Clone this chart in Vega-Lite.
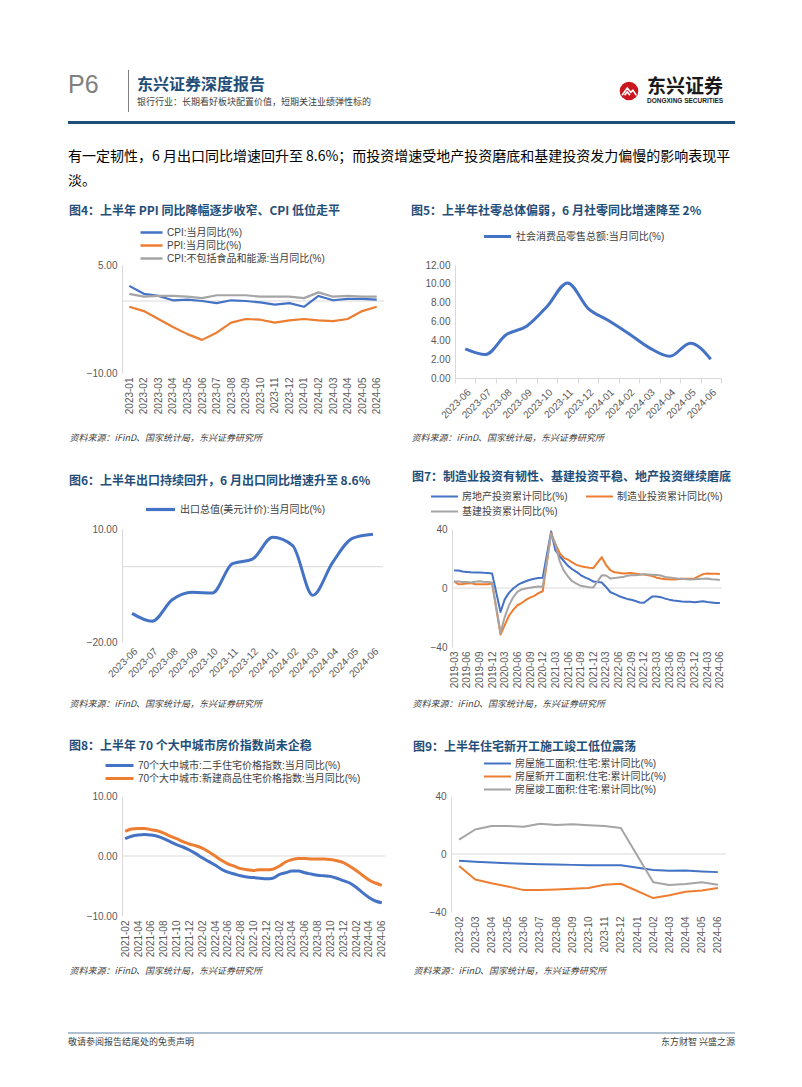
{
"$schema": "https://vega.github.io/schema/vega-lite/v6.json",
"background": "white",
"padding": {"left": 68, "top": 70, "right": 60, "bottom": 10},
"config": {
  "font": "Liberation Sans, Noto Sans CJK SC",
  "view": {"stroke": null},
  "title": {"font": "Noto Sans CJK SC", "fontSize": 12, "fontWeight": "bold", "color": "#1f4e79", "anchor": "start", "frame": "group", "subtitleFont": "Noto Sans CJK SC"},
  "axis": {"labelFont": "Liberation Sans", "labelFontSize": 10, "labelColor": "#595959", "grid": false, "ticks": false, "domainColor": "#d9d9d9", "titleFont": "Noto Sans CJK SC", "titleFontSize": 9, "titleFontWeight": "normal", "titleColor": "#404040", "titleFontStyle": "italic"},
  "axisX": {"domain": false, "labelPadding": 4, "labelOverlap": false, "titleAlign": "left", "titleBaseline": "middle"},
  "axisY": {"domain": true, "labelPadding": 5},
  "legend": {"orient": "none", "direction": "vertical", "symbolType": "stroke", "symbolStrokeWidth": 2.5, "labelFont": "Liberation Sans, Noto Sans CJK SC", "labelFontSize": 10, "labelColor": "#404040", "labelLimit": 400, "padding": 0, "rowPadding": 2, "clipHeight": 11, "labelOffset": 3},
  "line": {"strokeJoin": "round"}
},
"datasets": {
  "d4": [
    {"m":"2023-01","s":"CPI","v":2.1},{"m":"2023-02","s":"CPI","v":1.0},{"m":"2023-03","s":"CPI","v":0.7},{"m":"2023-04","s":"CPI","v":0.1},{"m":"2023-05","s":"CPI","v":0.2},{"m":"2023-06","s":"CPI","v":0.0},{"m":"2023-07","s":"CPI","v":-0.3},{"m":"2023-08","s":"CPI","v":0.1},{"m":"2023-09","s":"CPI","v":0.0},{"m":"2023-10","s":"CPI","v":-0.2},{"m":"2023-11","s":"CPI","v":-0.5},{"m":"2023-12","s":"CPI","v":-0.3},{"m":"2024-01","s":"CPI","v":-0.8},{"m":"2024-02","s":"CPI","v":0.7},{"m":"2024-03","s":"CPI","v":0.1},{"m":"2024-04","s":"CPI","v":0.3},{"m":"2024-05","s":"CPI","v":0.3},{"m":"2024-06","s":"CPI","v":0.2},
    {"m":"2023-01","s":"PPI","v":-0.8},{"m":"2023-02","s":"PPI","v":-1.4},{"m":"2023-03","s":"PPI","v":-2.5},{"m":"2023-04","s":"PPI","v":-3.6},{"m":"2023-05","s":"PPI","v":-4.6},{"m":"2023-06","s":"PPI","v":-5.4},{"m":"2023-07","s":"PPI","v":-4.4},{"m":"2023-08","s":"PPI","v":-3.0},{"m":"2023-09","s":"PPI","v":-2.5},{"m":"2023-10","s":"PPI","v":-2.6},{"m":"2023-11","s":"PPI","v":-3.0},{"m":"2023-12","s":"PPI","v":-2.7},{"m":"2024-01","s":"PPI","v":-2.5},{"m":"2024-02","s":"PPI","v":-2.7},{"m":"2024-03","s":"PPI","v":-2.8},{"m":"2024-04","s":"PPI","v":-2.5},{"m":"2024-05","s":"PPI","v":-1.4},{"m":"2024-06","s":"PPI","v":-0.8},
    {"m":"2023-01","s":"核心CPI","v":1.0},{"m":"2023-02","s":"核心CPI","v":0.6},{"m":"2023-03","s":"核心CPI","v":0.7},{"m":"2023-04","s":"核心CPI","v":0.7},{"m":"2023-05","s":"核心CPI","v":0.6},{"m":"2023-06","s":"核心CPI","v":0.4},{"m":"2023-07","s":"核心CPI","v":0.8},{"m":"2023-08","s":"核心CPI","v":0.8},{"m":"2023-09","s":"核心CPI","v":0.8},{"m":"2023-10","s":"核心CPI","v":0.6},{"m":"2023-11","s":"核心CPI","v":0.6},{"m":"2023-12","s":"核心CPI","v":0.6},{"m":"2024-01","s":"核心CPI","v":0.4},{"m":"2024-02","s":"核心CPI","v":1.2},{"m":"2024-03","s":"核心CPI","v":0.6},{"m":"2024-04","s":"核心CPI","v":0.7},{"m":"2024-05","s":"核心CPI","v":0.6},{"m":"2024-06","s":"核心CPI","v":0.6}
  ],
  "d5": [
    {"m":"2023-06","s":"社会消费品零售总额:当月同比(%)","v":3.1},{"m":"2023-07","s":"社会消费品零售总额:当月同比(%)","v":2.5},{"m":"2023-08","s":"社会消费品零售总额:当月同比(%)","v":4.6},{"m":"2023-09","s":"社会消费品零售总额:当月同比(%)","v":5.5},{"m":"2023-10","s":"社会消费品零售总额:当月同比(%)","v":7.6},{"m":"2023-11","s":"社会消费品零售总额:当月同比(%)","v":10.1},{"m":"2023-12","s":"社会消费品零售总额:当月同比(%)","v":7.4},{"m":"2024-01","s":"社会消费品零售总额:当月同比(%)","v":6.1},{"m":"2024-02","s":"社会消费品零售总额:当月同比(%)","v":4.7},{"m":"2024-03","s":"社会消费品零售总额:当月同比(%)","v":3.2},{"m":"2024-04","s":"社会消费品零售总额:当月同比(%)","v":2.3},{"m":"2024-05","s":"社会消费品零售总额:当月同比(%)","v":3.7},{"m":"2024-06","s":"社会消费品零售总额:当月同比(%)","v":2.0}
  ],
  "d6": [
    {"m":"2023-06","s":"出口总值(美元计价):当月同比(%)","v":-12.4},{"m":"2023-07","s":"出口总值(美元计价):当月同比(%)","v":-14.5},{"m":"2023-08","s":"出口总值(美元计价):当月同比(%)","v":-8.8},{"m":"2023-09","s":"出口总值(美元计价):当月同比(%)","v":-6.8},{"m":"2023-10","s":"出口总值(美元计价):当月同比(%)","v":-7.0},{"m":"2023-11","s":"出口总值(美元计价):当月同比(%)","v":0.8},{"m":"2023-12","s":"出口总值(美元计价):当月同比(%)","v":2.0},{"m":"2024-01","s":"出口总值(美元计价):当月同比(%)","v":7.8},{"m":"2024-02","s":"出口总值(美元计价):当月同比(%)","v":5.6},{"m":"2024-03","s":"出口总值(美元计价):当月同比(%)","v":-7.6},{"m":"2024-04","s":"出口总值(美元计价):当月同比(%)","v":1.2},{"m":"2024-05","s":"出口总值(美元计价):当月同比(%)","v":7.6},{"m":"2024-06","s":"出口总值(美元计价):当月同比(%)","v":8.6}
  ],
  "d7": [
    {"m":"2019-03","s":"地产","v":11.8},{"m":"2019-04","s":"地产","v":11.9},{"m":"2019-05","s":"地产","v":11.2},{"m":"2019-06","s":"地产","v":10.9},{"m":"2019-07","s":"地产","v":10.6},{"m":"2019-08","s":"地产","v":10.5},{"m":"2019-09","s":"地产","v":10.5},{"m":"2019-10","s":"地产","v":10.3},{"m":"2019-11","s":"地产","v":10.2},{"m":"2019-12","s":"地产","v":9.9},
    {"m":"2020-02","s":"地产","v":-16.3},{"m":"2020-03","s":"地产","v":-7.7},{"m":"2020-04","s":"地产","v":-3.3},{"m":"2020-05","s":"地产","v":-0.3},{"m":"2020-06","s":"地产","v":1.9},{"m":"2020-07","s":"地产","v":3.4},{"m":"2020-08","s":"地产","v":4.6},{"m":"2020-09","s":"地产","v":5.6},{"m":"2020-10","s":"地产","v":6.3},{"m":"2020-11","s":"地产","v":6.8},{"m":"2020-12","s":"地产","v":7.0},
    {"m":"2021-02","s":"地产","v":38.3},{"m":"2021-03","s":"地产","v":25.6},{"m":"2021-04","s":"地产","v":21.6},{"m":"2021-05","s":"地产","v":18.3},{"m":"2021-06","s":"地产","v":15.0},{"m":"2021-07","s":"地产","v":12.7},{"m":"2021-08","s":"地产","v":10.9},{"m":"2021-09","s":"地产","v":8.8},{"m":"2021-10","s":"地产","v":7.2},{"m":"2021-11","s":"地产","v":6.0},{"m":"2021-12","s":"地产","v":4.4},
    {"m":"2022-02","s":"地产","v":3.7},{"m":"2022-03","s":"地产","v":0.7},{"m":"2022-04","s":"地产","v":-2.7},{"m":"2022-05","s":"地产","v":-4.0},{"m":"2022-06","s":"地产","v":-5.4},{"m":"2022-07","s":"地产","v":-6.4},{"m":"2022-08","s":"地产","v":-7.4},{"m":"2022-09","s":"地产","v":-8.0},{"m":"2022-10","s":"地产","v":-8.8},{"m":"2022-11","s":"地产","v":-9.8},{"m":"2022-12","s":"地产","v":-10.0},
    {"m":"2023-02","s":"地产","v":-5.7},{"m":"2023-03","s":"地产","v":-5.8},{"m":"2023-04","s":"地产","v":-6.2},{"m":"2023-05","s":"地产","v":-7.2},{"m":"2023-06","s":"地产","v":-7.9},{"m":"2023-07","s":"地产","v":-8.5},{"m":"2023-08","s":"地产","v":-8.8},{"m":"2023-09","s":"地产","v":-9.1},{"m":"2023-10","s":"地产","v":-9.3},{"m":"2023-11","s":"地产","v":-9.4},{"m":"2023-12","s":"地产","v":-9.6},
    {"m":"2024-02","s":"地产","v":-9.0},{"m":"2024-03","s":"地产","v":-9.5},{"m":"2024-04","s":"地产","v":-9.8},{"m":"2024-05","s":"地产","v":-10.1},{"m":"2024-06","s":"地产","v":-10.1},
    {"m":"2019-03","s":"制造业","v":4.6},{"m":"2019-04","s":"制造业","v":2.5},{"m":"2019-05","s":"制造业","v":2.7},{"m":"2019-06","s":"制造业","v":3.0},{"m":"2019-07","s":"制造业","v":3.3},{"m":"2019-08","s":"制造业","v":2.6},{"m":"2019-09","s":"制造业","v":2.5},{"m":"2019-10","s":"制造业","v":2.6},{"m":"2019-11","s":"制造业","v":2.5},{"m":"2019-12","s":"制造业","v":3.1},
    {"m":"2020-02","s":"制造业","v":-31.5},{"m":"2020-03","s":"制造业","v":-25.2},{"m":"2020-04","s":"制造业","v":-18.8},{"m":"2020-05","s":"制造业","v":-14.8},{"m":"2020-06","s":"制造业","v":-11.7},{"m":"2020-07","s":"制造业","v":-10.2},{"m":"2020-08","s":"制造业","v":-8.1},{"m":"2020-09","s":"制造业","v":-6.5},{"m":"2020-10","s":"制造业","v":-5.3},{"m":"2020-11","s":"制造业","v":-3.5},{"m":"2020-12","s":"制造业","v":-2.2},
    {"m":"2021-02","s":"制造业","v":37.3},{"m":"2021-03","s":"制造业","v":29.8},{"m":"2021-04","s":"制造业","v":23.8},{"m":"2021-05","s":"制造业","v":20.4},{"m":"2021-06","s":"制造业","v":19.2},{"m":"2021-07","s":"制造业","v":17.3},{"m":"2021-08","s":"制造业","v":15.7},{"m":"2021-09","s":"制造业","v":14.8},{"m":"2021-10","s":"制造业","v":14.2},{"m":"2021-11","s":"制造业","v":13.7},{"m":"2021-12","s":"制造业","v":13.5},
    {"m":"2022-02","s":"制造业","v":20.9},{"m":"2022-03","s":"制造业","v":15.6},{"m":"2022-04","s":"制造业","v":12.2},{"m":"2022-05","s":"制造业","v":10.6},{"m":"2022-06","s":"制造业","v":10.4},{"m":"2022-07","s":"制造业","v":9.9},{"m":"2022-08","s":"制造业","v":10.0},{"m":"2022-09","s":"制造业","v":10.1},{"m":"2022-10","s":"制造业","v":9.7},{"m":"2022-11","s":"制造业","v":9.3},{"m":"2022-12","s":"制造业","v":9.1},
    {"m":"2023-02","s":"制造业","v":8.1},{"m":"2023-03","s":"制造业","v":7.0},{"m":"2023-04","s":"制造业","v":6.4},{"m":"2023-05","s":"制造业","v":6.0},{"m":"2023-06","s":"制造业","v":6.0},{"m":"2023-07","s":"制造业","v":5.7},{"m":"2023-08","s":"制造业","v":5.9},{"m":"2023-09","s":"制造业","v":6.2},{"m":"2023-10","s":"制造业","v":6.2},{"m":"2023-11","s":"制造业","v":6.3},{"m":"2023-12","s":"制造业","v":6.5},
    {"m":"2024-02","s":"制造业","v":9.4},{"m":"2024-03","s":"制造业","v":9.9},{"m":"2024-04","s":"制造业","v":9.7},{"m":"2024-05","s":"制造业","v":9.6},{"m":"2024-06","s":"制造业","v":9.5},
    {"m":"2019-03","s":"基建","v":4.4},{"m":"2019-04","s":"基建","v":4.4},{"m":"2019-05","s":"基建","v":4.0},{"m":"2019-06","s":"基建","v":4.1},{"m":"2019-07","s":"基建","v":3.8},{"m":"2019-08","s":"基建","v":4.2},{"m":"2019-09","s":"基建","v":4.5},{"m":"2019-10","s":"基建","v":4.2},{"m":"2019-11","s":"基建","v":4.0},{"m":"2019-12","s":"基建","v":3.8},
    {"m":"2020-02","s":"基建","v":-30.3},{"m":"2020-03","s":"基建","v":-19.7},{"m":"2020-04","s":"基建","v":-11.8},{"m":"2020-05","s":"基建","v":-6.3},{"m":"2020-06","s":"基建","v":-2.7},{"m":"2020-07","s":"基建","v":-1.0},{"m":"2020-08","s":"基建","v":-0.3},{"m":"2020-09","s":"基建","v":0.2},{"m":"2020-10","s":"基建","v":0.7},{"m":"2020-11","s":"基建","v":1.0},{"m":"2020-12","s":"基建","v":0.9},
    {"m":"2021-02","s":"基建","v":36.6},{"m":"2021-03","s":"基建","v":29.7},{"m":"2021-04","s":"基建","v":18.4},{"m":"2021-05","s":"基建","v":11.8},{"m":"2021-06","s":"基建","v":7.8},{"m":"2021-07","s":"基建","v":4.6},{"m":"2021-08","s":"基建","v":2.9},{"m":"2021-09","s":"基建","v":1.5},{"m":"2021-10","s":"基建","v":1.0},{"m":"2021-11","s":"基建","v":0.5},{"m":"2021-12","s":"基建","v":0.4},
    {"m":"2022-02","s":"基建","v":8.6},{"m":"2022-03","s":"基建","v":8.5},{"m":"2022-04","s":"基建","v":6.5},{"m":"2022-05","s":"基建","v":6.7},{"m":"2022-06","s":"基建","v":7.1},{"m":"2022-07","s":"基建","v":7.4},{"m":"2022-08","s":"基建","v":8.3},{"m":"2022-09","s":"基建","v":8.6},{"m":"2022-10","s":"基建","v":8.7},{"m":"2022-11","s":"基建","v":8.9},{"m":"2022-12","s":"基建","v":9.4},
    {"m":"2023-02","s":"基建","v":9.0},{"m":"2023-03","s":"基建","v":8.8},{"m":"2023-04","s":"基建","v":8.5},{"m":"2023-05","s":"基建","v":7.5},{"m":"2023-06","s":"基建","v":7.2},{"m":"2023-07","s":"基建","v":6.8},{"m":"2023-08","s":"基建","v":6.4},{"m":"2023-09","s":"基建","v":6.2},{"m":"2023-10","s":"基建","v":5.9},{"m":"2023-11","s":"基建","v":5.8},{"m":"2023-12","s":"基建","v":5.9},
    {"m":"2024-02","s":"基建","v":6.3},{"m":"2024-03","s":"基建","v":6.5},{"m":"2024-04","s":"基建","v":6.0},{"m":"2024-05","s":"基建","v":5.7},{"m":"2024-06","s":"基建","v":5.4}
  ],
  "d8": [
    {"m":"2021-02","s":"二手","v":2.9},{"m":"2021-03","s":"二手","v":3.3},{"m":"2021-04","s":"二手","v":3.5},{"m":"2021-05","s":"二手","v":3.6},{"m":"2021-06","s":"二手","v":3.5},{"m":"2021-07","s":"二手","v":3.3},{"m":"2021-08","s":"二手","v":2.9},{"m":"2021-09","s":"二手","v":2.4},{"m":"2021-10","s":"二手","v":1.9},{"m":"2021-11","s":"二手","v":1.5},{"m":"2021-12","s":"二手","v":1.0},
    {"m":"2022-01","s":"二手","v":0.4},{"m":"2022-02","s":"二手","v":-0.3},{"m":"2022-03","s":"二手","v":-0.9},{"m":"2022-04","s":"二手","v":-1.5},{"m":"2022-05","s":"二手","v":-2.2},{"m":"2022-06","s":"二手","v":-2.7},{"m":"2022-07","s":"二手","v":-3.0},{"m":"2022-08","s":"二手","v":-3.3},{"m":"2022-09","s":"二手","v":-3.5},{"m":"2022-10","s":"二手","v":-3.6},{"m":"2022-11","s":"二手","v":-3.7},{"m":"2022-12","s":"二手","v":-3.8},
    {"m":"2023-01","s":"二手","v":-3.7},{"m":"2023-02","s":"二手","v":-3.1},{"m":"2023-03","s":"二手","v":-2.8},{"m":"2023-04","s":"二手","v":-2.5},{"m":"2023-05","s":"二手","v":-2.5},{"m":"2023-06","s":"二手","v":-2.8},{"m":"2023-07","s":"二手","v":-3.0},{"m":"2023-08","s":"二手","v":-3.2},{"m":"2023-09","s":"二手","v":-3.3},{"m":"2023-10","s":"二手","v":-3.4},{"m":"2023-11","s":"二手","v":-3.7},{"m":"2023-12","s":"二手","v":-4.1},
    {"m":"2024-01","s":"二手","v":-4.5},{"m":"2024-02","s":"二手","v":-5.2},{"m":"2024-03","s":"二手","v":-6.1},{"m":"2024-04","s":"二手","v":-6.9},{"m":"2024-05","s":"二手","v":-7.5},{"m":"2024-06","s":"二手","v":-7.8},
    {"m":"2021-02","s":"新建","v":4.1},{"m":"2021-03","s":"新建","v":4.5},{"m":"2021-04","s":"新建","v":4.6},{"m":"2021-05","s":"新建","v":4.6},{"m":"2021-06","s":"新建","v":4.4},{"m":"2021-07","s":"新建","v":4.2},{"m":"2021-08","s":"新建","v":3.8},{"m":"2021-09","s":"新建","v":3.3},{"m":"2021-10","s":"新建","v":2.9},{"m":"2021-11","s":"新建","v":2.4},{"m":"2021-12","s":"新建","v":2.0},
    {"m":"2022-01","s":"新建","v":1.7},{"m":"2022-02","s":"新建","v":1.3},{"m":"2022-03","s":"新建","v":0.7},{"m":"2022-04","s":"新建","v":0.0},{"m":"2022-05","s":"新建","v":-0.7},{"m":"2022-06","s":"新建","v":-1.3},{"m":"2022-07","s":"新建","v":-1.7},{"m":"2022-08","s":"新建","v":-2.1},{"m":"2022-09","s":"新建","v":-2.3},{"m":"2022-10","s":"新建","v":-2.4},{"m":"2022-11","s":"新建","v":-2.3},{"m":"2022-12","s":"新建","v":-2.3},
    {"m":"2023-01","s":"新建","v":-2.2},{"m":"2023-02","s":"新建","v":-1.7},{"m":"2023-03","s":"新建","v":-1.0},{"m":"2023-04","s":"新建","v":-0.6},{"m":"2023-05","s":"新建","v":-0.4},{"m":"2023-06","s":"新建","v":-0.4},{"m":"2023-07","s":"新建","v":-0.5},{"m":"2023-08","s":"新建","v":-0.5},{"m":"2023-09","s":"新建","v":-0.5},{"m":"2023-10","s":"新建","v":-0.6},{"m":"2023-11","s":"新建","v":-0.8},{"m":"2023-12","s":"新建","v":-1.1},
    {"m":"2024-01","s":"新建","v":-1.7},{"m":"2024-02","s":"新建","v":-2.4},{"m":"2024-03","s":"新建","v":-3.2},{"m":"2024-04","s":"新建","v":-4.0},{"m":"2024-05","s":"新建","v":-4.5},{"m":"2024-06","s":"新建","v":-4.9}
  ],
  "d9": [
    {"m":"2023-02","s":"施工","v":-4.7},{"m":"2023-03","s":"施工","v":-5.4},{"m":"2023-04","s":"施工","v":-5.9},{"m":"2023-05","s":"施工","v":-6.4},{"m":"2023-06","s":"施工","v":-6.8},{"m":"2023-07","s":"施工","v":-7.1},{"m":"2023-08","s":"施工","v":-7.3},{"m":"2023-09","s":"施工","v":-7.5},{"m":"2023-10","s":"施工","v":-7.8},{"m":"2023-11","s":"施工","v":-7.8},{"m":"2023-12","s":"施工","v":-7.8},{"m":"2024-02","s":"施工","v":-11.1},{"m":"2024-03","s":"施工","v":-11.5},{"m":"2024-04","s":"施工","v":-11.3},{"m":"2024-05","s":"施工","v":-12.0},{"m":"2024-06","s":"施工","v":-12.5},
    {"m":"2023-02","s":"新开工","v":-8.2},{"m":"2023-03","s":"新开工","v":-17.6},{"m":"2023-04","s":"新开工","v":-20.2},{"m":"2023-05","s":"新开工","v":-22.4},{"m":"2023-06","s":"新开工","v":-24.9},{"m":"2023-07","s":"新开工","v":-24.9},{"m":"2023-08","s":"新开工","v":-24.5},{"m":"2023-09","s":"新开工","v":-24.0},{"m":"2023-10","s":"新开工","v":-23.5},{"m":"2023-11","s":"新开工","v":-21.2},{"m":"2023-12","s":"新开工","v":-20.5},{"m":"2024-02","s":"新开工","v":-30.4},{"m":"2024-03","s":"新开工","v":-28.5},{"m":"2024-04","s":"新开工","v":-26.1},{"m":"2024-05","s":"新开工","v":-25.2},{"m":"2024-06","s":"新开工","v":-23.5},
    {"m":"2023-02","s":"竣工","v":9.9},{"m":"2023-03","s":"竣工","v":16.9},{"m":"2023-04","s":"竣工","v":19.3},{"m":"2023-05","s":"竣工","v":19.3},{"m":"2023-06","s":"竣工","v":18.8},{"m":"2023-07","s":"竣工","v":20.9},{"m":"2023-08","s":"竣工","v":20.0},{"m":"2023-09","s":"竣工","v":20.5},{"m":"2023-10","s":"竣工","v":19.8},{"m":"2023-11","s":"竣工","v":19.3},{"m":"2023-12","s":"竣工","v":17.9},{"m":"2024-02","s":"竣工","v":-19.5},{"m":"2024-03","s":"竣工","v":-21.4},{"m":"2024-04","s":"竣工","v":-20.7},{"m":"2024-05","s":"竣工","v":-19.5},{"m":"2024-06","s":"竣工","v":-21.2}
  ]
},
"spacing": 9,
"resolve": {"scale": {"color": "independent", "strokeWidth": "independent"}, "legend": {"color": "independent", "strokeWidth": "independent"}},
"vconcat": [
  {
    "hconcat": [
      {"width": 52, "height": 3,
       "title": {"text": "P6", "orient": "bottom", "anchor": "start", "offset": 0, "fontSize": 25, "font": "Liberation Sans", "fontWeight": "normal", "color": "#808080"},
       "data": {"values": [{}]}, "mark": {"type": "point", "size": 0, "opacity": 0, "strokeWidth": 0}},
      {"width": 1, "height": 42, "view": {"fill": "#7f7f7f", "stroke": null},
       "data": {"values": [{}]}, "mark": {"type": "point", "size": 0, "opacity": 0, "strokeWidth": 0}},
      {"width": 474, "height": 5,
       "title": {"text": "东兴证券深度报告", "subtitle": "银行行业：长期看好板块配置价值，短期关注业绩弹性标的", "orient": "bottom", "anchor": "start", "offset": 2, "fontSize": 16, "color": "#1f4e79", "subtitleFontSize": 9, "subtitleColor": "#404040", "subtitlePadding": 5},
       "data": {"values": [{}]}, "mark": {"type": "point", "size": 0, "opacity": 0, "strokeWidth": 0}},
      {"width": 20, "height": 42, "data": {"values": [{}]},
       "layer": [
         {"mark": {"type": "point", "shape": "circle", "filled": true, "size": 346, "color": "#c9151e", "opacity": 1}},
         {"mark": {"type": "point", "shape": "M-0.8,0.5L-0.2,-0.35L0.2,0.15L0.45,-0.1L0.85,0.5M-0.5,0.5L-0.2,0.1L0.1,0.5", "filled": false, "stroke": "white", "strokeWidth": 1.6, "size": 300, "opacity": 1}}
       ]},
      {"width": 85, "height": 6,
       "title": {"text": "东兴证券", "subtitle": "DONGXING SECURITIES", "orient": "bottom", "anchor": "start", "offset": 2, "fontSize": 19, "fontWeight": "bold", "color": "#1a1a1a", "subtitleFont": "Liberation Sans", "subtitleFontSize": 6.5, "subtitleFontWeight": "bold", "subtitleColor": "#1a1a1a", "subtitlePadding": 1},
       "data": {"values": [{}]}, "mark": {"type": "point", "size": 0, "opacity": 0, "strokeWidth": 0}}
    ],
    "spacing": 8,
    "bounds": "flush"
  },
  {
    "spacing": 26,
    "resolve": {"scale": {"color": "independent", "strokeWidth": "independent"}, "legend": {"color": "independent", "strokeWidth": "independent"}},
    "vconcat": [
      {"width": 667, "height": 3, "view": {"fill": "#1f4e79", "stroke": null},
       "data": {"values": [{}]}, "mark": {"type": "point", "size": 0, "opacity": 0, "strokeWidth": 0}},
      {
        "spacing": -3,
        "resolve": {"scale": {"color": "independent", "strokeWidth": "independent"}, "legend": {"color": "independent", "strokeWidth": "independent"}},
        "vconcat": [
          {"width": 667, "height": 0,
           "title": {"text": ["有一定韧性，6 月出口同比增速回升至 8.6%；而投资增速受地产投资磨底和基建投资发力偏慢的影响表现平", "淡。"], "anchor": "start", "offset": 0, "fontSize": 14, "fontWeight": "normal", "color": "#000000", "lineHeight": 24},
           "data": {"values": [{}]}, "mark": {"type": "point", "size": 0, "opacity": 0, "strokeWidth": 0}},
          {
            "spacing": 57,
            "resolve": {"scale": {"color": "independent", "strokeWidth": "independent"}, "legend": {"color": "independent", "strokeWidth": "independent"}},
            "vconcat": [
              {
                "spacing": 29,
                "resolve": {"scale": {"color": "independent", "strokeWidth": "independent"}, "legend": {"color": "independent", "strokeWidth": "independent"}},
                "vconcat": [
                  {
                    "spacing": 0,
                    "resolve": {"scale": {"color": "independent", "strokeWidth": "independent"}, "legend": {"color": "independent", "strokeWidth": "independent"}},
                    "hconcat": [
                      {"width": 0.01, "height": 0.01, "data": {"values": [{}]}, "mark": {"type": "point", "size": 0, "opacity": 0, "strokeWidth": 0}},
                      {
                        "spacing": 26,
                        "resolve": {"scale": {"color": "independent", "strokeWidth": "independent"}, "legend": {"color": "independent", "strokeWidth": "independent"}},
                        "hconcat": [
                          {
                            "width": 262, "height": 108,
                            "title": {"text": "图4：上半年 PPI 同比降幅逐步收窄、CPI 低位走平", "dx": -53, "offset": 9},
                            "data": {"name": "d4"},
                            "layer": [
                              {"data": {"values": [{}]}, "mark": {"type": "rule", "color": "#d9d9d9", "strokeWidth": 1},
                               "encoding": {"y": {"datum": 0, "type": "quantitative", "axis": {"title": null}}}},
                              {"mark": {"type": "line", "strokeWidth": 2.2},
                               "encoding": {
                                 "x": {"field": "m", "type": "ordinal", "axis": {"labelAngle": -90, "title": "资料来源：iFinD、国家统计局，东兴证券研究所", "titleX": -53, "titleY": 64}},
                                 "y": {"field": "v", "type": "quantitative", "scale": {"domain": [-10, 5], "nice": false, "zero": false}, "axis": {"values": [-10, -5, 0, 5], "format": ".2f", "title": null}},
                                 "color": {"field": "s", "type": "nominal", "scale": {"domain": ["CPI", "PPI", "核心CPI"], "range": ["#4472c4", "#ed7d31", "#a5a5a5"]},
                                   "legend": {"title": null, "legendX": 17, "legendY": -38, "symbolSize": 484, "labelExpr": "datum.label == 'CPI' ? 'CPI:当月同比(%)' : datum.label == 'PPI' ? 'PPI:当月同比(%)' : 'CPI:不包括食品和能源:当月同比(%)'"}}
                               }}
                            ]
                          },
                          {
                            "width": 266, "height": 113,
                            "title": {"text": "图5：上半年社零总体偏弱，6 月社零同比增速降至 2%", "dx": -44, "offset": 13},
                            "data": {"name": "d5"},
                            "mark": {"type": "line", "interpolate": "monotone", "strokeWidth": 3},
                            "encoding": {
                              "x": {"field": "m", "type": "ordinal", "bandPosition": 0.5, "scale": {"type": "band", "paddingInner": 0, "paddingOuter": 0},
                                    "axis": {"labelAngle": -45, "domain": true, "ticks": true, "tickBand": "extent", "tickSize": 5, "tickColor": "#d9d9d9", "title": "资料来源：iFinD、国家统计局，东兴证券研究所", "titleX": -44, "titleY": 59}},
                              "y": {"field": "v", "type": "quantitative", "scale": {"domain": [0, 12], "nice": false}, "axis": {"values": [0, 2, 4, 6, 8, 10, 12], "format": ".2f", "title": null}},
                              "color": {"field": "s", "type": "nominal", "scale": {"range": ["#4472c4"]},
                                "legend": {"title": null, "legendX": 27, "legendY": -34, "symbolSize": 729, "symbolStrokeWidth": 3.2}}
                            }
                          }
                        ]
                      }
                    ]
                  },
                  {
                    "spacing": 32,
                    "resolve": {"scale": {"color": "independent", "strokeWidth": "independent"}, "legend": {"color": "independent", "strokeWidth": "independent"}},
                    "vconcat": [
                      {
                        "spacing": 0,
                        "resolve": {"scale": {"color": "independent", "strokeWidth": "independent"}, "legend": {"color": "independent", "strokeWidth": "independent"}},
                        "hconcat": [
                          {"width": 0.01, "height": 0.01, "data": {"values": [{}]}, "mark": {"type": "point", "size": 0, "opacity": 0, "strokeWidth": 0}},
                          {
                            "spacing": 28,
                            "resolve": {"scale": {"color": "independent", "strokeWidth": "independent"}, "legend": {"color": "independent", "strokeWidth": "independent"}},
                            "hconcat": [
                              {
                                "width": 261, "height": 113,
                                "title": {"text": "图6：上半年出口持续回升，6 月出口同比增速升至 8.6%", "dx": -53, "offset": 16},
                                "data": {"name": "d6"},
                                "layer": [
                                  {"data": {"values": [{}]}, "mark": {"type": "rule", "color": "#d9d9d9", "strokeWidth": 1},
                                   "encoding": {"y": {"datum": 0, "type": "quantitative", "axis": {"title": null}}}},
                                  {"mark": {"type": "line", "interpolate": "monotone", "strokeWidth": 3},
                                   "encoding": {
                                     "x": {"field": "m", "type": "ordinal", "axis": {"labelAngle": -45, "title": "资料来源：iFinD、国家统计局，东兴证券研究所", "titleX": -53, "titleY": 61}},
                                     "y": {"field": "v", "type": "quantitative", "scale": {"domain": [-20, 10], "nice": false, "zero": false}, "axis": {"values": [-20, -15, -10, -5, 0, 5, 10], "format": ".2f", "title": null}},
                                     "color": {"field": "s", "type": "nominal", "scale": {"range": ["#4472c4"]},
                                       "legend": {"title": null, "legendX": 22, "legendY": -25, "symbolSize": 841, "symbolStrokeWidth": 3.2}}
                                   }}
                                ]
                              },
                              {
                                "width": 270, "height": 118,
                                "title": {"text": "图7：制造业投资有韧性、基建投资平稳、地产投资继续磨底", "dx": -40, "offset": 7},
                                "data": {"name": "d7"},
                                "layer": [
                                  {"data": {"values": [{}]}, "mark": {"type": "rule", "color": "#d9d9d9", "strokeWidth": 1},
                                   "encoding": {"y": {"datum": 0, "type": "quantitative", "axis": {"title": null}}}},
                                  {"mark": {"type": "line"},
                                   "encoding": {
                                     "x": {"field": "m", "type": "ordinal",
                                           "scale": {"domain": ["2019-03","2019-04","2019-05","2019-06","2019-07","2019-08","2019-09","2019-10","2019-11","2019-12","2020-01","2020-02","2020-03","2020-04","2020-05","2020-06","2020-07","2020-08","2020-09","2020-10","2020-11","2020-12","2021-01","2021-02","2021-03","2021-04","2021-05","2021-06","2021-07","2021-08","2021-09","2021-10","2021-11","2021-12","2022-01","2022-02","2022-03","2022-04","2022-05","2022-06","2022-07","2022-08","2022-09","2022-10","2022-11","2022-12","2023-01","2023-02","2023-03","2023-04","2023-05","2023-06","2023-07","2023-08","2023-09","2023-10","2023-11","2023-12","2024-01","2024-02","2024-03","2024-04","2024-05","2024-06"]},
                                           "axis": {"labelAngle": -90, "labelExpr": "toNumber(slice(datum.label, 5)) % 3 == 0 ? datum.label : ''", "title": "资料来源：iFinD、国家统计局，东兴证券研究所", "titleX": -40, "titleY": 56}},
                                     "y": {"field": "v", "type": "quantitative", "scale": {"domain": [-40, 40], "nice": false, "zero": false}, "axis": {"values": [-40, -20, 0, 20, 40], "format": "d", "title": null}},
                                     "color": {"field": "s", "type": "nominal", "scale": {"domain": ["地产", "制造业", "基建"], "range": ["#4472c4", "#ed7d31", "#a5a5a5"]},
                                       "legend": {"title": null, "direction": "horizontal", "columns": 2, "columnPadding": 17, "rowPadding": 4, "legendX": -22, "legendY": -38, "symbolSize": 729, "labelExpr": "datum.label == '地产' ? '房地产投资累计同比(%)' : datum.label == '制造业' ? '制造业投资累计同比(%)' : '基建投资累计同比(%)'"}},
                                     "strokeWidth": {"field": "s", "type": "nominal", "scale": {"domain": ["地产", "制造业", "基建"], "range": [2, 2, 3]}, "legend": null}
                                   }}
                                ]
                              }
                            ]
                          }
                        ]
                      },
                      {
                        "spacing": 0,
                        "resolve": {"scale": {"color": "independent", "strokeWidth": "independent"}, "legend": {"color": "independent", "strokeWidth": "independent"}},
                        "hconcat": [
                          {"width": 0.01, "height": 0.01, "data": {"values": [{}]}, "mark": {"type": "point", "size": 0, "opacity": 0, "strokeWidth": 0}},
                          {
                            "spacing": 26,
                            "resolve": {"scale": {"color": "independent", "strokeWidth": "independent"}, "legend": {"color": "independent", "strokeWidth": "independent"}},
                            "hconcat": [
                              {
                                "width": 263, "height": 120,
                                "title": {"text": "图8：上半年 70 个大中城市房价指数尚未企稳", "dx": -53, "offset": 7},
                                "data": {"name": "d8"},
                                "layer": [
                                  {"data": {"values": [{}]}, "mark": {"type": "rule", "color": "#d9d9d9", "strokeWidth": 1},
                                   "encoding": {"y": {"datum": 0, "type": "quantitative", "axis": {"title": null}}}},
                                  {"mark": {"type": "line", "interpolate": "monotone", "strokeWidth": 3},
                                   "encoding": {
                                     "x": {"field": "m", "type": "ordinal", "axis": {"labelAngle": -90, "labelExpr": "toNumber(slice(datum.label, 5)) % 2 == 0 ? datum.label : ''", "title": "资料来源：iFinD、国家统计局，东兴证券研究所", "titleX": -53, "titleY": 54}},
                                     "y": {"field": "v", "type": "quantitative", "scale": {"domain": [-10, 10], "nice": false, "zero": false}, "axis": {"values": [-10, -5, 0, 5, 10], "format": ".2f", "title": null}},
                                     "color": {"field": "s", "type": "nominal", "scale": {"domain": ["二手", "新建"], "range": ["#4472c4", "#ed7d31"]},
                                       "legend": {"title": null, "legendX": -18, "legendY": -36, "symbolSize": 784, "symbolStrokeWidth": 3, "labelExpr": "datum.label == '二手' ? '70个大中城市:二手住宅价格指数:当月同比(%)' : '70个大中城市:新建商品住宅价格指数:当月同比(%)'"}}
                                   }}
                                ]
                              },
                              {
                                "width": 275, "height": 116,
                                "title": {"text": "图9：上半年住宅新开工施工竣工低位震荡", "dx": -38, "offset": 4},
                                "data": {"name": "d9"},
                                "layer": [
                                  {"data": {"values": [{}]}, "mark": {"type": "rule", "color": "#d9d9d9", "strokeWidth": 1},
                                   "encoding": {"y": {"datum": 0, "type": "quantitative", "axis": {"title": null}}}},
                                  {"mark": {"type": "line"},
                                   "encoding": {
                                     "x": {"field": "m", "type": "ordinal",
                                           "scale": {"domain": ["2023-02","2023-03","2023-04","2023-05","2023-06","2023-07","2023-08","2023-09","2023-10","2023-11","2023-12","2024-01","2024-02","2024-03","2024-04","2024-05","2024-06"]},
                                           "axis": {"labelAngle": -90, "title": "资料来源：iFinD、国家统计局，东兴证券研究所", "titleX": -38, "titleY": 58}},
                                     "y": {"field": "v", "type": "quantitative", "scale": {"domain": [-40, 40], "nice": false, "zero": false}, "axis": {"values": [-40, -20, 0, 20, 40], "format": "d", "title": null}},
                                     "color": {"field": "s", "type": "nominal", "scale": {"domain": ["施工", "新开工", "竣工"], "range": ["#4472c4", "#ed7d31", "#a5a5a5"]},
                                       "legend": {"title": null, "legendX": 32, "legendY": -38, "symbolSize": 729, "labelExpr": "datum.label == '施工' ? '房屋施工面积:住宅:累计同比(%)' : datum.label == '新开工' ? '房屋新开工面积:住宅:累计同比(%)' : '房屋竣工面积:住宅:累计同比(%)'"}},
                                     "strokeWidth": {"field": "s", "type": "nominal", "scale": {"domain": ["施工", "新开工", "竣工"], "range": [2, 2, 3]}, "legend": null}
                                   }}
                                ]
                              }
                            ]
                          }
                        ]
                      }
                    ]
                  }
                ]
              },
              {
                "spacing": 0,
                "hconcat": [
                  {"width": 333, "height": 2, "view": {"fill": "#aebfd0", "stroke": null},
                   "title": {"text": "敬请参阅报告结尾处的免责声明", "orient": "bottom", "anchor": "start", "offset": 4, "fontSize": 9, "fontWeight": "normal", "color": "#404040"},
                   "data": {"values": [{}]}, "mark": {"type": "point", "size": 0, "opacity": 0, "strokeWidth": 0}},
                  {"width": 334, "height": 2, "view": {"fill": "#aebfd0", "stroke": null},
                   "title": {"text": "东方财智 兴盛之源", "orient": "bottom", "anchor": "end", "offset": 4, "fontSize": 9, "fontWeight": "normal", "color": "#404040"},
                   "data": {"values": [{}]}, "mark": {"type": "point", "size": 0, "opacity": 0, "strokeWidth": 0}}
                ]
              }
            ]
          }
        ]
      }
    ]
  }
]
}
